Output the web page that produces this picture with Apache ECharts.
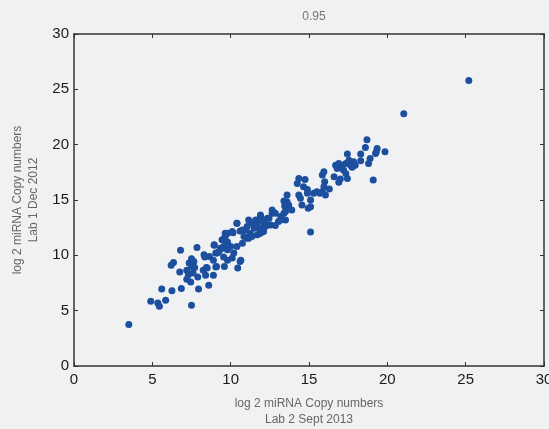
<!DOCTYPE html>
<html>
<head>
<meta charset="utf-8">
<script src="https://cdn.jsdelivr.net/npm/echarts@6/dist/echarts.min.js"></script>
<style>
  html, body { margin: 0; padding: 0; background: #f0f1f3; }
  #chart { width: 549px; height: 429px; }
</style>
</head>
<body>
<div id="chart"></div>
<script>
// chart title (correlation) and axis names
const titleText = '0.95';
const xName = 'log 2 miRNA Copy numbers\nLab 2 Sept 2013';
const yName = 'log 2 miRNA Copy numbers\nLab 1 Dec 2012';
const tickValues = [0, 5, 10, 15, 20, 25, 30];

// log2 copy numbers per miRNA
const lab2 = [
  3.5, 4.9, 5.35, 5.45, 5.85, 5.6, 6.25, 6.85, 7.5, 7.95, 8.6,
  6.2, 6.35, 6.75, 6.8, 7.2, 7.35, 7.5, 7.65, 7.7, 7.3, 7.2, 7.45, 7.85, 7.9, 7.5, 7.6,
  8.25, 8.45, 8.35, 8.65, 8.3, 9.1, 9.6, 8.95, 9.05, 9.25, 9.5, 9.8, 9.45, 9.65, 9.8,
  10.0, 10.15, 10.6, 10.4, 10.6, 10.45, 10.75, 11.05, 10.95, 11.15, 11.35, 11.5, 11.7,
  11.7, 11.9, 12.05, 12.1, 11.9, 12.35, 12.2, 12.55, 12.35, 12.65, 12.65, 12.85, 12.85,
  13.05, 13.2, 13.2, 13.4, 13.5, 13.5, 13.7, 13.6, 13.6, 13.9, 13.7,
  14.25, 14.35, 14.75, 14.65, 14.9, 14.35, 14.45, 14.55, 14.9, 15.1, 15.1, 15.3, 15.5,
  15.7, 14.95, 15.1, 15.85, 16.05, 15.95, 16.0, 15.85, 15.95, 16.3, 16.6, 16.9, 16.8,
  17.1, 16.7, 16.9, 16.8, 17.0, 17.2, 17.35, 17.45, 17.45, 17.55, 17.85, 17.35, 17.65,
  17.95, 17.75, 18.3, 18.3, 18.6, 18.7, 18.9, 18.8, 19.35, 19.25, 19.3, 19.85, 19.1,
  21.05, 25.2,
  8.9, 9.15, 9.35, 9.55, 9.8, 9.55, 9.8, 10.1, 10.2, 10.4, 10.65, 9.05, 8.5, 8.4, 8.9,
  9.65, 10.1, 10.4, 10.75, 10.85, 11.15, 11.25, 11.05, 11.35, 11.6, 11.7, 11.9, 11.9,
  12.1, 12.35, 12.1, 12.45, 13.45, 13.4, 8.95
];
const lab1 = [
  3.75, 5.85, 5.7, 5.4, 5.95, 6.95, 6.8, 7.0, 5.5, 6.95, 7.3,
  9.1, 9.35, 8.5, 10.45, 8.65, 9.3, 9.7, 9.45, 8.9, 8.25, 7.85, 7.6, 10.7, 8.05, 9.0, 8.4,
  8.65, 8.9, 9.85, 9.9, 10.05, 9.0, 9.0, 10.9, 10.2, 10.35, 10.65, 11.2, 11.4, 11.7, 12.0,
  10.8, 12.05, 12.2, 12.9, 9.45, 8.85, 11.1, 11.55, 12.3, 13.2, 11.7, 12.45, 13.05,
  11.85, 12.15, 12.45, 13.2, 13.65, 12.75, 12.6, 12.75, 13.35, 14.1, 13.8, 13.8, 12.7,
  13.05, 13.5, 13.2, 13.8, 13.95, 13.2, 14.4, 14.85, 15.45, 14.1, 14.55,
  16.5, 16.95, 16.85, 16.2, 15.95, 15.45, 15.15, 14.55, 15.6, 15.0, 14.4, 15.6, 15.75,
  15.6, 14.25, 12.1, 15.75, 15.45, 16.2, 16.65, 17.25, 17.55, 16.0, 17.1, 16.6, 18.0,
  18.15, 18.15, 18.3, 17.85, 16.9, 17.7, 17.4, 16.95, 19.15, 18.6, 18.45, 18.3, 18.15,
  18.15, 17.95, 19.15, 18.55, 19.75, 20.45, 18.75, 18.3, 19.65, 19.2, 19.35, 19.35, 16.8,
  22.8, 25.8,
  9.55, 10.2, 10.65, 10.8, 10.5, 9.85, 9.55, 9.75, 10.2, 10.8, 9.55, 8.95, 8.85, 8.2, 8.2,
  12.0, 12.15, 12.9, 12.3, 11.7, 11.55, 12.0, 12.6, 12.9, 13.2, 12.6, 13.5, 12.0,
  12.9, 12.75, 12.15, 13.35, 14.45, 14.9, 10.95
];

const points = lab2.map((x, i) => [x, lab1[i]]);

const chart = echarts.init(document.getElementById('chart'));

const axisLine = { show: true, onZero: false, lineStyle: { color: '#333', width: 1.5 } };
const axisTick = { show: true, inside: true, length: 4, lineStyle: { color: '#333' } };
const tickLabel = { color: '#1a1a1a', fontSize: 15, fontFamily: 'Liberation Sans' };

chart.setOption({
  backgroundColor: '#f0f1f3',
  animation: false,
  title: {
    text: titleText,
    left: 309,
    textAlign: 'center',
    top: 6,
    textStyle: { color: '#777', fontSize: 12, fontWeight: 'normal', fontFamily: 'Liberation Sans' }
  },
  grid: { left: 74, right: 5, top: 34, bottom: 63, outerBoundsMode: 'none' },
  xAxis: [
    {
      type: 'value', min: 0, max: 30, interval: 5, position: 'bottom',
      name: xName, nameLocation: 'middle', nameGap: 30,
      nameTextStyle: { color: '#666', fontSize: 12, lineHeight: 16, fontFamily: 'Liberation Sans' },
      axisLine: axisLine, axisTick: axisTick, splitLine: { show: false },
      axisLabel: Object.assign({ margin: 6 }, tickLabel)
    },
    {
      type: 'value', min: 0, max: 30, interval: 5, position: 'top',
      axisLine: axisLine, axisTick: axisTick, splitLine: { show: false },
      axisLabel: { show: false }
    }
  ],
  yAxis: [
    {
      type: 'value', min: 0, max: 30, interval: 5, position: 'left',
      name: yName, nameLocation: 'middle', nameGap: 31, nameRotate: 90,
      nameTextStyle: { color: '#666', fontSize: 12, lineHeight: 16, fontFamily: 'Liberation Sans' },
      axisLine: axisLine, axisTick: axisTick, splitLine: { show: false },
      axisLabel: Object.assign({ margin: 5 }, tickLabel)
    },
    {
      type: 'value', min: 0, max: 30, interval: 5, position: 'right',
      axisLine: axisLine, axisTick: axisTick, splitLine: { show: false },
      axisLabel: { show: false }
    }
  ],
  series: [{
    type: 'scatter',
    data: points,
    symbolSize: 7,
    itemStyle: { color: '#1c4f9e', opacity: 1 }
  }]
});
</script>
</body>
</html>
